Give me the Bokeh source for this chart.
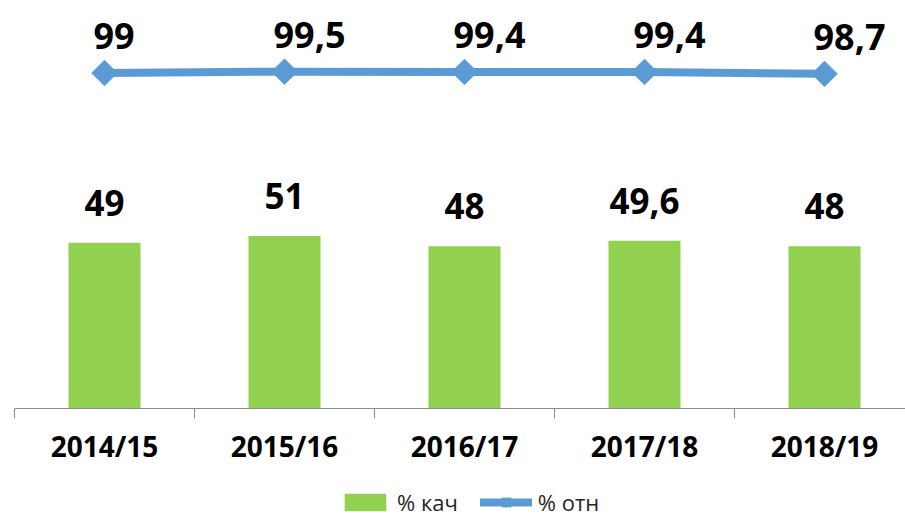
from bokeh.plotting import figure
from bokeh.layouts import column
from bokeh.models import (ColumnDataSource, FixedTicker, Range1d, Legend, LegendItem)
from bokeh.core.properties import value
from bokeh.embed import file_html
from bokeh.resources import INLINE
import math

categories = ["2014/15", "2015/16", "2016/17", "2017/18", "2018/19"]
kach = [49, 51, 48, 49.6, 48]
otn = [99, 99.5, 99.4, 99.4, 98.7]
series_names = ["% кач", "% отн"]


def fmt(v):
    s = ("%g" % v)
    return s.replace(".", ",")


xs = list(range(len(categories)))
src = ColumnDataSource(dict(
    x=xs, kach=kach, otn=otn,
    kach_lbl=[fmt(v) for v in kach],
    otn_lbl=[fmt(v) for v in otn],
))

GREEN = "#92D050"
BLUE = "#5B9BD5"
AXIS = "#8C8C8C"
FONT = "Open Sans"

p = figure(width=905, height=484, output_backend="svg", toolbar_location=None,
           x_range=Range1d(-0.5, 4.45), y_range=Range1d(0, 120.7),
           y_axis_location=None, min_border_left=14, min_border_right=0,
           min_border_top=0, min_border_bottom=76)
p.extra_y_ranges = {"otn": Range1d(-20.8, 124.9)}
p.outline_line_color = None
p.xgrid.visible = False
p.ygrid.visible = False
p.background_fill_color = "white"
p.border_fill_color = "white"

p.vbar(x="x", top="kach", width=0.4, bottom=0, source=src,
       fill_color=GREEN, line_color=None)
p.text(x="x", y="kach", text="kach_lbl", source=src,
       text_font=value(FONT), text_font_style="bold", text_font_size="35px",
       text_color="black", text_align="center", text_baseline="alphabetic",
       y_offset=-40)

p.line(x="x", y="otn", source=src, y_range_name="otn",
       line_color=BLUE, line_width=8)
p.scatter(x="x", y="otn", source=src, y_range_name="otn",
          marker="square", size=18, angle=math.pi / 4,
          fill_color=BLUE, line_color=BLUE)
p.text(x="x", y="otn", text="otn_lbl", source=src, y_range_name="otn",
       text_font=value(FONT), text_font_style="bold", text_font_size="36px",
       text_color="black", text_align="left", text_baseline="alphabetic",
       x_offset=-11, y_offset=-37)

ax = p.xaxis[0]
ax.ticker = FixedTicker(ticks=xs, minor_ticks=[i - 0.5 for i in range(len(categories) + 1)])
ax.major_label_overrides = {i: c for i, c in enumerate(categories)}
ax.axis_line_color = AXIS
ax.axis_line_width = 1
ax.major_tick_out = 0
ax.major_tick_in = 0
ax.minor_tick_out = 10
ax.minor_tick_in = 0
ax.minor_tick_line_color = AXIS
ax.major_label_standoff = 8
ax.major_label_text_font = FONT
ax.major_label_text_font_style = "bold"
ax.major_label_text_font_size = "28px"
ax.major_label_text_color = "black"

# legend strip: same series drawn out of view, only their legend glyphs show
lg = figure(width=905, height=33, output_backend="svg", toolbar_location=None,
            x_range=Range1d(100, 101), y_range=Range1d(1000, 1001),
            x_axis_location=None, y_axis_location=None,
            min_border_left=0, min_border_right=0, min_border_top=0, min_border_bottom=0)
lg.outline_line_color = None
lg.xgrid.visible = False
lg.ygrid.visible = False
r_bar = lg.vbar(x="x", top="kach", width=0.4, source=src, fill_color=GREEN, line_color=None)
r_line = lg.line(x="x", y="otn", source=src, line_color=BLUE, line_width=8,
                 line_cap="round")
r_mark = lg.scatter(x="x", y="otn", source=src, marker="square", size=18,
                    angle=math.pi / 4, fill_color=BLUE, line_color=BLUE)

legend = Legend(items=[LegendItem(label=series_names[0], renderers=[r_bar]),
                       LegendItem(label=series_names[1], renderers=[r_line, r_mark])],
                orientation="horizontal", location=(325, 0),
                margin=0, padding=0, spacing=22, label_standoff=6,
                glyph_width=52, glyph_height=22,
                label_text_font=FONT, label_text_font_size="22px",
                label_text_color="#262626",
                border_line_color=None, background_fill_alpha=0)
lg.add_layout(legend, "center")

layout = column(p, lg, spacing=0)
open("out.html", "w").write(file_html(layout, INLINE))
